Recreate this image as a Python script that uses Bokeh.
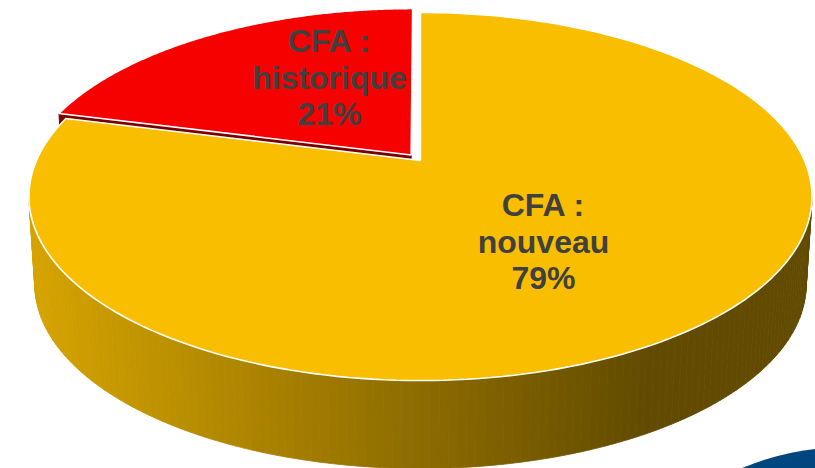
import numpy as np
from bokeh.plotting import figure
from bokeh.models import Range1d
from bokeh.embed import file_html
from bokeh.resources import INLINE
from bokeh.core.properties import value

# ---- data ----
label_prefix = "CFA :"
categories = ["historique", "nouveau"]
shares = [21, 79]
top_colors = ["#F70000", "#F9BE00"]
radial_side_colors = ["#7A0000", "#6B5200"]
explode = [0.04, 0.0]

# ---- layout / projection constants ----
W, H = 815, 468
X0, Y0, A, B, K = 420.0, 160.0, 384.0, 177.0, 0.1956
DEPTH, SB = 88.0, 0.985


def proj(u, v, depth=False):
    u = np.asarray(u, dtype=float)
    v = np.asarray(v, dtype=float)
    w = 1 + K * v
    x = X0 + A * u / w
    y = Y0 - B * v / w
    if depth:
        x = X0 + (x - X0) * SB
        y = y + DEPTH
    return x, y


p = figure(width=W, height=H, x_range=Range1d(0, W), y_range=Range1d(H, 0),
           output_backend="svg", toolbar_location=None, min_border=0,
           x_axis_location=None, y_axis_location=None)
p.grid.visible = False
p.outline_line_color = None
p.background_fill_color = "white"
p.border_fill_color = "white"

# slice angles (start at 12 o'clock, counter-clockwise)
total = float(sum(shares))
starts, ends = [], []
a = 90.0
for s in shares:
    starts.append(a)
    a += 360.0 * s / total
    ends.append(a)

offsets = []
for i in range(len(shares)):
    mid = np.radians((starts[i] + ends[i]) / 2)
    offsets.append((explode[i] * np.cos(mid), explode[i] * np.sin(mid)))

# ---- side of the cylinder (yellow slice covers the front) with gradient strips ----
t_left = np.pi + np.arcsin(K)
t_right = 2 * np.pi - np.arcsin(K)
N = 140
ts = np.linspace(t_left, t_right, N + 1)
ou, ov = offsets[1]
xs_list, ys_list, cols = [], [], []
c0 = np.array([214, 164, 0])
c1 = np.array([98, 75, 0])
for i in range(N):
    tt = np.array([ts[i], ts[i + 1]])
    xt, yt = proj(np.cos(tt) + ou, np.sin(tt) + ov)
    xb, yb = proj(np.cos(tt) + ou, np.sin(tt) + ov, depth=True)
    xs_list.append([xt[0], xt[1], xb[1], xb[0]])
    ys_list.append([yt[0], yt[1], yb[1], yb[0]])
    xm = (xt[0] + xt[1]) / 2
    f = min(max((xm - 30) / 620.0, 0), 1)
    c = (c0 + (c1 - c0) * f).astype(int)
    cols.append("#%02x%02x%02x" % tuple(c))
p.patches(xs_list, ys_list, fill_color=cols, line_color=cols, line_width=0.8)

# ---- radial face of the red slice (visible sliver) ----
ru, rv = offsets[0]
ang = np.radians(ends[0])
vx, vy = proj(ru, rv)
ex, ey = proj(np.cos(ang) + ru, np.sin(ang) + rv)
vxb, vyb = proj(ru, rv, depth=True)
exb, eyb = proj(np.cos(ang) + ru, np.sin(ang) + rv, depth=True)
p.patch([float(vx), float(ex), float(exb), float(vxb)],
        [float(vy), float(ey), float(eyb), float(vyb)],
        fill_color=radial_side_colors[0], line_color=radial_side_colors[0])

# ---- top faces ----
for i in range(len(shares)):
    ou_, ov_ = offsets[i]
    phis = np.radians(np.linspace(starts[i], ends[i], 200))
    uu = np.concatenate([[0.0], np.cos(phis), [0.0]]) + ou_
    vv = np.concatenate([[0.0], np.sin(phis), [0.0]]) + ov_
    x, y = proj(uu, vv)
    p.patch(list(x), list(y), fill_color=top_colors[i], line_color="white",
            line_width=1.6)

# ---- labels ----
label_pos = [(329, [40, 77, 113]), (543, [204, 241, 277])]
for i, cat in enumerate(categories):
    lines = [label_prefix, cat, "%d%%" % shares[i]]
    cx, ys = label_pos[i]
    p.text(x=[cx] * 3, y=ys, text=lines, text_font=value("Liberation Sans"),
           text_font_style="bold", text_font_size="32px", text_color="#404040",
           text_align="center", text_baseline="middle")

# ---- decorative shape from the slide (bottom-right corner) ----
p.ellipse(x=[843], y=[707], width=[520], height=[520], fill_color="#00467F",
          line_color=None)

open("out.html", "w").write(file_html(p, INLINE))
